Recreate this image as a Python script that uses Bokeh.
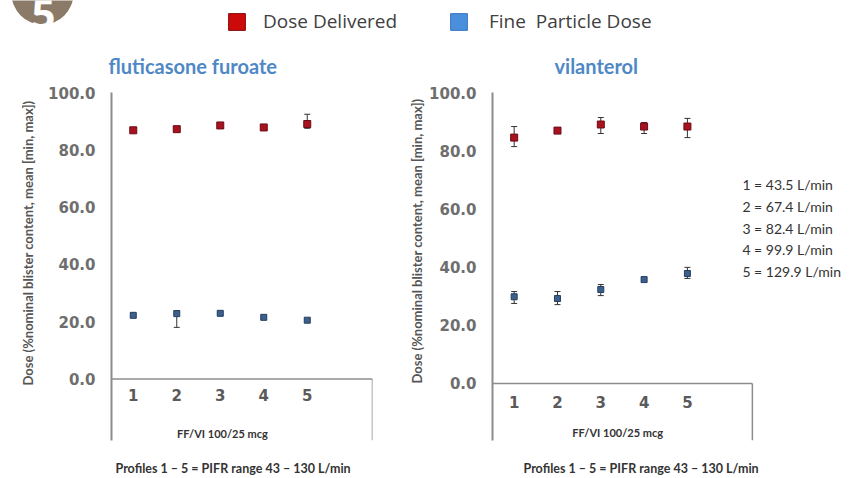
from bokeh.plotting import figure
from bokeh.models import (Range1d, FixedTicker, PrintfTickFormatter, Whisker, TeeHead,
                          ColumnDataSource, Title, Legend, LegendItem)
from bokeh.layouts import column, row
from bokeh.embed import file_html
from bokeh.resources import INLINE
from bokeh.core.properties import value

# Inhalation profiles (x categories) and their peak inspiratory flow rates
profiles = [1, 2, 3, 4, 5]
flow_rates = ["43.5", "67.4", "82.4", "99.9", "129.9"]
y_ticks = [0, 20, 40, 60, 80, 100]

# fluticasone furoate: % nominal blister content, mean [min, max]
ff_dd_mean = [86.8, 87.2, 88.5, 87.8, 89.0]
ff_dd_min = [86.2, 86.6, 87.7, 87.2, 87.5]
ff_dd_max = [87.4, 87.9, 89.3, 88.4, 92.4]
ff_fpd_mean = [22.2, 22.8, 22.9, 21.5, 20.5]
ff_fpd_min = [21.6, 18.0, 22.5, 21.0, 20.1]
ff_fpd_max = [22.8, 23.8, 23.3, 22.0, 20.9]

# vilanterol: % nominal blister content, mean [min, max]
vi_dd_mean = [84.5, 86.9, 89.0, 88.3, 88.3]
vi_dd_min = [81.4, 86.1, 85.9, 85.9, 84.5]
vi_dd_max = [88.3, 87.7, 91.4, 89.7, 91.1]
vi_fpd_mean = [29.8, 29.2, 32.3, 35.7, 37.8]
vi_fpd_min = [27.5, 27.1, 30.2, 35.2, 36.1]
vi_fpd_max = [31.6, 31.6, 34.0, 36.2, 39.9]

DD_FILL, DD_LINE = "#a8121f", "#6a0c14"
FPD_FILL, FPD_LINE = "#3d5f8c", "#263f60"
AXIS_GREY = "#8c8c8c"
TITLE_BLUE = "#4f88c6"
YLABEL = "Dose (%nominal blister content, mean [min, max])"
XLABEL = "FF/VI 100/25 mcg"
PROFILE_NOTE = "Profiles 1 \u2013 5 = PIFR range 43 \u2013 130 L/min"


def panel(title, dd, fpd, width, x_end, border, y_floor, title_off, title_gap,
          tick_y, ylab_off, ylab_gap, xlab_xy, note_off, show_rates=False):
    box_end = len(profiles) + 1.5          # five profiles plus one empty slot
    p = figure(width=width, height=442, x_range=Range1d(0.5, x_end),
               y_range=Range1d(y_floor, 100), toolbar_location=None,
               output_backend="svg", x_axis_location=None,
               min_border_left=border[0], min_border_right=border[1],
               min_border_top=border[2], min_border_bottom=border[3])
    p.outline_line_color = None
    p.grid.visible = False

    ax = p.yaxis[0]
    ax.ticker = FixedTicker(ticks=y_ticks)
    ax.formatter = PrintfTickFormatter(format="%.1f")
    ax.major_tick_out = 0
    ax.major_tick_in = 0
    ax.major_tick_line_color = None
    ax.minor_tick_line_color = None
    ax.axis_line_color = AXIS_GREY
    ax.axis_line_width = 2
    ax.major_label_standoff = 16
    ax.major_label_text_font = "DejaVu Sans"
    ax.major_label_text_font_style = "bold"
    ax.major_label_text_font_size = "15px"
    ax.major_label_text_color = "#6e6e6e"

    # category box below the plot area
    p.segment(x0=[0.5], y0=[0], x1=[box_end], y1=[0], line_color=AXIS_GREY, line_width=1.5)
    p.segment(x0=[box_end], y0=[y_floor], x1=[box_end], y1=[0],
              line_color=AXIS_GREY, line_width=1.5)
    p.text(x=profiles, y=[tick_y] * len(profiles), text=[str(v) for v in profiles],
           text_align="center", text_baseline="middle",
           text_font=value("DejaVu Sans"), text_font_style="bold",
           text_font_size="15px", text_color="#5a5a5a")
    p.text(x=[xlab_xy[0]], y=[xlab_xy[1]], text=[XLABEL], text_align="center",
           text_baseline="middle", text_font=value("Lato"), text_font_style="bold",
           text_font_size="11px", text_color="#333333")

    for (mean, lo, hi), fill, line, size in ((dd, DD_FILL, DD_LINE, 7),
                                             (fpd, FPD_FILL, FPD_LINE, 6)):
        src = ColumnDataSource(dict(x=profiles, mean=mean, lo=lo, hi=hi))
        p.add_layout(Whisker(source=src, base="x", upper="hi", lower="lo",
                             line_color="#333333", line_width=1,
                             upper_head=TeeHead(size=6, line_color="#333333", line_width=1),
                             lower_head=TeeHead(size=6, line_color="#333333", line_width=1)))
        p.scatter(x="x", y="mean", source=src, marker="square", size=size,
                  fill_color=fill, line_color=line, line_width=1)

    p.add_layout(Title(text=title, align="left", offset=title_off, standoff=title_gap,
                       text_font="Lato", text_font_style="bold", text_font_size="20px",
                       text_color=TITLE_BLUE), "above")
    p.add_layout(Title(text=YLABEL, align="left", offset=ylab_off, standoff=ylab_gap,
                       text_font="Lato", text_font_style="bold", text_font_size="13px",
                       text_color="#555555"), "left")
    p.add_layout(Title(text=PROFILE_NOTE, align="left", offset=note_off, standoff=0,
                       padding=(0, 0, 18, 0), vertical_align="bottom",
                       text_font="Lato", text_font_style="bold", text_font_size="12.5px",
                       text_color="#333333"), "below")

    if show_rates:
        rate_y = [68.4, 60.9, 53.4, 46.0, 38.5]
        p.text(x=[6.27] * len(profiles), y=rate_y,
               text=[f"{k} = {r} L/min" for k, r in zip(profiles, flow_rates)],
               text_font=value("Lato"), text_font_size="14px", text_color="#333333",
               text_baseline="middle", text_align="left")
    return p


p_ff = panel("fluticasone furoate", (ff_dd_mean, ff_dd_min, ff_dd_max),
             (ff_fpd_mean, ff_fpd_min, ff_fpd_max), width=400, x_end=6.5,
             border=(111, 28, 54, 38), y_floor=-21.5, title_off=-3, title_gap=30,
             tick_y=-5.6, ylab_off=55, ylab_gap=20, xlab_xy=(3.05, -19.1), note_off=4)

p_vi = panel("vilanterol", (vi_dd_mean, vi_dd_min, vi_dd_max),
             (vi_fpd_mean, vi_fpd_min, vi_fpd_max), width=463, x_end=8.95,
             border=(92, 5, 56, 38), y_floor=-19.6, title_off=62, title_gap=30,
             tick_y=-6.2, ylab_off=57, ylab_gap=4, xlab_xy=(3.39, -16.8), note_off=31,
             show_rates=True)

# header strip: figure badge and shared legend
head = figure(width=863, height=36, x_range=Range1d(0, 863), y_range=Range1d(36, 0),
              toolbar_location=None, output_backend="svg", min_border=0,
              x_axis_location=None, y_axis_location=None)
head.outline_line_color = None
head.grid.visible = False
head.circle(x=[42], y=[-7], radius=31, fill_color="#8b7a68", line_color=None)
head.text(x=[43], y=[13], text=["5"], text_align="center", text_baseline="alphabetic",
          text_font=value("Open Sans"), text_font_style="bold", text_font_size="42px",
          text_color="white")

# legend swatches (kept off-canvas; only their legend glyphs are seen)
r_dd = head.quad(left=[-60], right=[-50], top=[-60], bottom=[-50],
                 fill_color="#cc0a0a", line_color="#8a0a0a")
r_fpd = head.quad(left=[-60], right=[-50], top=[-60], bottom=[-50],
                  fill_color="#4a8fdc", line_color="#3a78c0")
for lab, rend, xloc, gap in (("Dose Delivered", r_dd, 226, 16),
                             ("Fine  Particle Dose", r_fpd, 448, 20)):
    head.add_layout(Legend(items=[LegendItem(label=lab, renderers=[rend])],
                           location=(xloc, 2), orientation="horizontal",
                           padding=0, margin=0, glyph_width=21, glyph_height=21,
                           label_standoff=gap, label_text_font="Open Sans",
                           label_text_font_size="19px", label_text_color="#404040",
                           label_text_baseline="middle", label_height=21,
                           border_line_color=None, background_fill_alpha=0))

layout = column(head, row(p_ff, p_vi, spacing=0), spacing=0)
open("out.html", "w").write(file_html(layout, INLINE))
